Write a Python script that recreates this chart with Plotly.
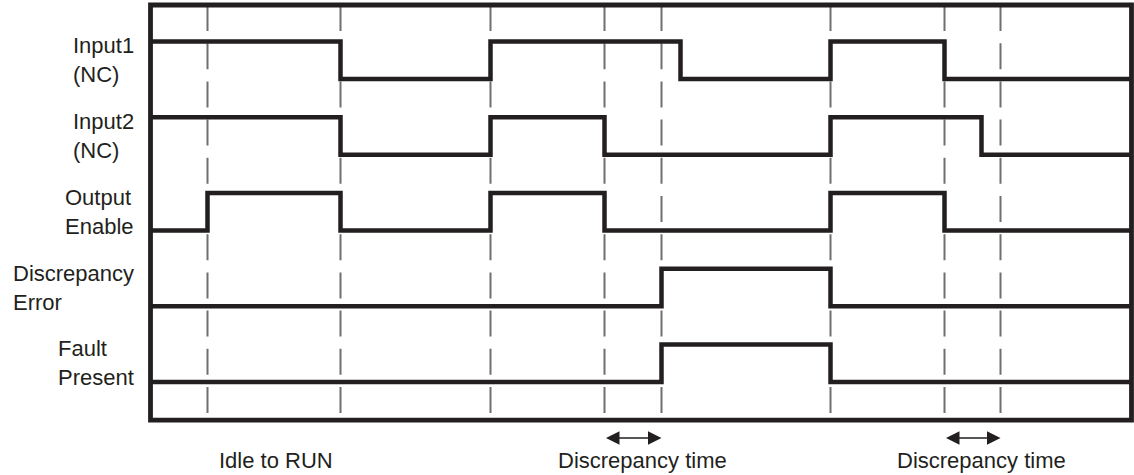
import plotly.graph_objects as go

# ---- data (time units measured from the left edge of the frame) ----
signal_names = ["Input1<br>(NC)", "Input2<br>(NC)", "Output<br>Enable",
                "Discrepancy<br>Error", "Fault<br>Present"]
initial_state = [1, 1, 0, 0, 0]
transitions = [
    [190, 340, 530, 680, 794],          # Input1
    [190, 340, 454, 680, 831],          # Input2
    [57, 190, 340, 454, 680, 794],      # Output Enable
    [511, 680],                         # Discrepancy Error
    [511, 680],                         # Fault Present
]
t_end = 981
event_times = [57, 190, 340, 454, 511, 680, 794, 850]
window_labels = ["Idle to RUN", "Discrepancy time", "Discrepancy time"]
window_start = [57, 454, 794]
window_end = [190, 511, 850]
window_arrow = [False, True, True]

# ---- styling ----
INK = "#231f20"
DASH = "#6f6f6f"
FONT = "Liberation Sans, Arial, Helvetica, sans-serif"
AMP = 0.495
TOP = 0.977
BOTTOM = -4.502

fig = go.Figure()

for k, (name, s0, tr) in enumerate(zip(signal_names, initial_state, transitions)):
    xs = [0]
    ys = [s0]
    s = s0
    for t in tr:
        s = 1 - s
        xs.append(t)
        ys.append(s)
    xs.append(t_end)
    ys.append(s)
    yv = [-k + AMP * v for v in ys]
    fig.add_trace(go.Scatter(x=xs, y=yv, mode="lines", line_shape="hv",
                             line=dict(color=INK, width=4.5),
                             hoverinfo="skip", showlegend=False))
    fig.add_annotation(x=-15, y=-k + AMP / 2, xref="x", yref="y",
                       text=name, showarrow=False, xanchor="right",
                       yanchor="middle", align="left",
                       font=dict(family=FONT, size=22, color=INK))

for t in event_times:
    fig.add_shape(type="line", x0=t, x1=t, y0=TOP, y1=BOTTOM + 0.09,
                  xref="x", yref="y", layer="below",
                  line=dict(color=DASH, width=2, dash="26px,12.2px"))

fig.add_shape(type="rect", x0=0, x1=t_end, y0=BOTTOM, y1=TOP,
              xref="x", yref="y", line=dict(color=INK, width=4.8),
              fillcolor="rgba(0,0,0,0)")

arrow_y = -4.74
label_y = -5.03
for lab, a, b, arr in zip(window_labels, window_start, window_end, window_arrow):
    if arr:
        fig.add_annotation(x=b, y=arrow_y, ax=a, ay=arrow_y, xref="x", yref="y",
                           axref="x", ayref="y", text="", showarrow=True,
                           arrowhead=2, startarrowhead=2, arrowside="end+start",
                           arrowsize=1.8, startarrowsize=1.8, arrowwidth=1.5,
                           arrowcolor=INK, standoff=0, startstandoff=0)
        cx = (a + b) / 2 + 9
    else:
        cx = (a + b) / 2 + 2
    fig.add_annotation(x=cx, y=label_y, xref="x", yref="y", text=lab,
                       showarrow=False, xanchor="center", yanchor="middle",
                       font=dict(family=FONT, size=22, color=INK))

fig.update_layout(
    width=1134, height=475,
    margin=dict(l=0, r=0, t=0, b=0),
    paper_bgcolor="white", plot_bgcolor="white",
    xaxis=dict(range=[-150.5, 983.5], visible=False, fixedrange=True),
    yaxis=dict(range=[-5.2277, 1.0429], visible=False, fixedrange=True),
    showlegend=False,
)

fig.write_html("out.html",
               config={"displayModeBar": False, "staticPlot": True},
               post_script="document.body.style.margin='0';"
                           "document.body.style.padding='0';"
                           "document.body.style.overflow='hidden';")
